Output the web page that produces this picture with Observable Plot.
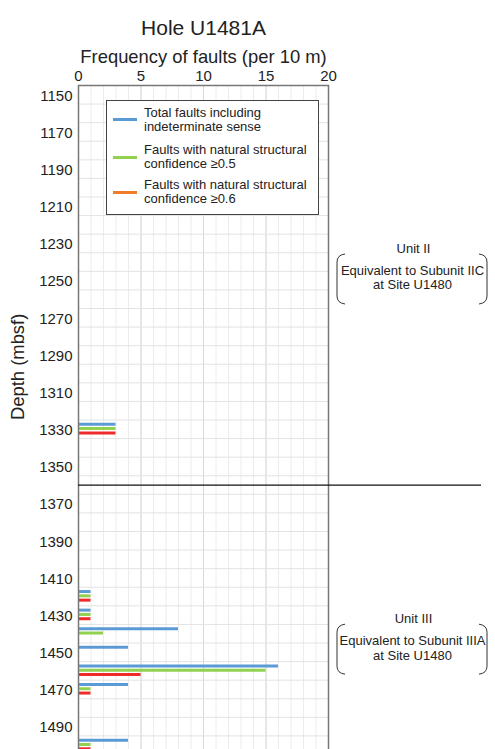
<!DOCTYPE html>
<html>
<head>
<meta charset="utf-8">
<script src="https://cdn.jsdelivr.net/npm/d3@7"></script>
<script src="https://cdn.jsdelivr.net/npm/@observablehq/plot@0.6"></script>
<style>
  html, body { margin: 0; padding: 0; background: #fff; overflow: hidden; }
  #chart { position: relative; width: 495px; height: 749px; font-family: "Liberation Sans", Arial, sans-serif; color: #222; }
  .legend { position: absolute; left: 106px; top: 100px; width: 211px; height: 113px; border: 1px solid #444; background: #fff; }
  .legend .row { position: absolute; left: 0; display: flex; align-items: center; }
  .legend .swatch { width: 24px; height: 3px; margin-left: 6px; margin-right: 7px; }
  .legend .label { font-size: 13px; line-height: 14px; white-space: pre; color: #222; }
</style>
</head>
<body>
<div id="chart"></div>
<script>
// Fault counts per 10 m interval, keyed by interval mid-depth (mbsf)
const depths   = [1330, 1420, 1430, 1440, 1450, 1460, 1470, 1500];
const totalFaults = [3, 1, 1, 8, 4, 16, 4, 4];
const conf05      = [3, 1, 1, 2, 0, 15, 1, 1];
const conf06      = [3, 1, 1, 0, 0, 5, 1, 1];

const seriesNames = [
  "Total faults including\nindeterminate sense",
  "Faults with natural structural\nconfidence \u22650.5",
  "Faults with natural structural\nconfidence \u22650.6"
];
const barColors    = ["#5b9bd5", "#92d050", "#ee2a2a"];
const legendColors = ["#5b9bd5", "#92d050", "#f07c2a"];

const xTicks = [0, 5, 10, 15, 20];
const yTicks = d3.range(1150, 1491, 20);

// Lithologic units and the boundary between them
const unitBoundary = 1360;
const units = [
  {name: "Unit II",  desc: "Equivalent to Subunit IIC\nat Site U1480",  depth: 1249.4},
  {name: "Unit III", desc: "Equivalent to Subunit IIIA\nat Site U1480", depth: 1448.6}
];

const series = [totalFaults, conf05, conf06];
const rows = series.map((vals, s) =>
  depths.map((d, i) => ({depth: d, value: vals[i], s})).filter(r => r.value > 0)
);
const barOffsets = [-5, -0.7, 3.6];

// Curved brackets to the right of the plot framing each unit description
function brackets(index, scales, values, dimensions) {
  const g = d3.create("svg:g").attr("fill", "none").attr("stroke", "#333").attr("stroke-width", 1);
  const xr = dimensions.width - dimensions.marginRight;
  for (const u of units) {
    const yc = scales.y(u.depth);
    const top = yc - 25, bot = yc + 25;
    const L = xr + 9, R = xr + 159;
    g.append("path").attr("d", `M${L + 8},${top} Q${L},${top + 1} ${L},${top + 8} L${L},${bot - 8} Q${L},${bot - 1} ${L + 8},${bot}`);
    g.append("path").attr("d", `M${R - 8},${top} Q${R},${top + 1} ${R},${top + 8} L${R},${bot - 8} Q${R},${bot - 1} ${R - 8},${bot}`);
  }
  return g.node();
}

const chart = Plot.plot({
  width: 495,
  height: 754,
  marginTop: 85,
  marginLeft: 78,
  marginRight: 167,
  marginBottom: 0,
  style: {fontFamily: "'Liberation Sans', Arial, sans-serif", fontSize: "15px", color: "#222", background: "white", overflow: "visible"},
  x: {domain: [0, 20]},
  y: {domain: [1145, 1505], reverse: true},
  marks: [
    Plot.gridX(d3.range(0, 21, 1), {stroke: "#ececec", strokeOpacity: 1}),
    Plot.gridX(xTicks, {stroke: "#d9d9d9", strokeOpacity: 1}),
    Plot.gridY(d3.range(1155, 1505, 10), {stroke: "#e3e3e3", strokeOpacity: 1}),
    ...rows.map((r, s) => Plot.ruleY(r, {
      y: "depth", x1: 0, x2: "value", dy: barOffsets[s],
      stroke: barColors[s], strokeWidth: 3
    })),
    Plot.frame({stroke: "#777", strokeWidth: 1.5}),
    Plot.axisX(xTicks, {anchor: "top", tickSize: 0, tickPadding: 5, fontSize: 15, label: null}),
    Plot.axisY(yTicks, {anchor: "left", tickSize: 0, tickPadding: 6, fontSize: 15, dy: 1, label: null, tickFormat: d3.format("d")}),
    Plot.ruleY([unitBoundary], {stroke: "#111", strokeWidth: 1.3, insetRight: -153}),
    Plot.text(["Hole U1481A"], {frameAnchor: "top", dy: -65, fontSize: 21, fill: "#222"}),
    Plot.text(["Frequency of faults (per 10 m)"], {frameAnchor: "top", dy: -36, fontSize: 18.4, fill: "#222"}),
    Plot.text(["Depth (mbsf)"], {frameAnchor: "left", dx: -60, rotate: -90, fontSize: 18.4, fill: "#222"}),
    Plot.text(units, {y: "depth", text: "name", frameAnchor: "right", textAnchor: "middle", dx: 85, dy: -31, fontSize: 13, fill: "#222"}),
    Plot.text(units, {y: "depth", text: "desc", frameAnchor: "right", textAnchor: "middle", dx: 84, dy: -2, fontSize: 13, lineHeight: 1.12, fill: "#222"}),
    brackets
  ]
});

const root = document.getElementById("chart");
root.appendChild(chart);

// Legend box drawn over the upper part of the plot
const legend = document.createElement("div");
legend.className = "legend";
const rowTops = [4.7, 42, 77];
seriesNames.forEach((name, i) => {
  const row = document.createElement("div");
  row.className = "row";
  row.style.top = rowTops[i] + "px";
  const sw = document.createElement("div");
  sw.className = "swatch";
  sw.style.background = legendColors[i];
  const lb = document.createElement("div");
  lb.className = "label";
  lb.textContent = name;
  row.appendChild(sw);
  row.appendChild(lb);
  legend.appendChild(row);
});
root.appendChild(legend);
</script>
</body>
</html>
